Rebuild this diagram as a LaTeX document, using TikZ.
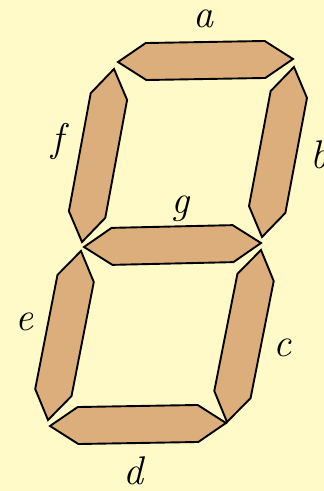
\documentclass[tikz,border=0pt]{standalone}
\usetikzlibrary{calc}

\definecolor{giallino}{HTML}{FFFAC8}
\definecolor{ocra}{HTML}{DCAE7C}

\begin{document}
\begin{tikzpicture}[x=1pt, y=-1pt,
    segmento/.style={draw=black, fill=ocra, line width=1.9pt},
    etichetta/.style={font=\fontsize{40}{44}\selectfont\itshape, inner sep=0pt}]
    % ==========================================
    % PARAMETRI GEOMETRICI
    % ==========================================
    \def\segcut{28pt}    % Distanza punta -> spigolo lungo il segmento
    \def\seghalf{18.5pt} % Mezza larghezza del segmento

    % Sfondo e dimensioni della figura
    \fill[giallino] (0,0) rectangle (324,491);
    \useasboundingbox (0,0) rectangle (324,491);

    % ==========================================
    % MACRO PER UN SEGMENTO ESAGONALE
    % #1 = nome del segmento
    % #2 = prima punta
    % #3 = seconda punta
    % ==========================================
    \newcommand{\drawseg}[3]{
        \coordinate (#1-s) at (#2);
        \coordinate (#1-t) at (#3);
        \draw[segmento] (#1-s)
            -- ($(#1-s)!\segcut!(#1-t)!\seghalf!90:(#1-t)$)
            -- ($(#1-t)!\segcut!(#1-s)!\seghalf!-90:(#1-s)$)
            -- (#1-t)
            -- ($(#1-t)!\segcut!(#1-s)!\seghalf!90:(#1-s)$)
            -- ($(#1-s)!\segcut!(#1-t)!\seghalf!-90:(#1-t)$)
            -- cycle;
    }

    % ==========================================
    % I SETTE SEGMENTI
    % ==========================================
    \drawseg{a}{118,62}{293,59}
    \drawseg{b}{294,67}{262,237}
    \drawseg{c}{261,250}{227,422}
    \drawseg{d}{50,426}{226,423}
    \drawseg{e}{81,251}{48,420}
    \drawseg{f}{114,69}{82,242}
    \drawseg{g}{84,247}{261,243}

    % ==========================================
    % ETICHETTE
    % ==========================================
    \node[etichetta] (lbl-a) at (203,19) {a};
    \node[etichetta] (lbl-b) at (319,155) {b};
    \node[etichetta] (lbl-c) at (282,348) {c};
    \node[etichetta] (lbl-d) at (133,471) {d};
    \node[etichetta] (lbl-e) at (25,322) {e};
    \node[etichetta] (lbl-f) at (58,141) {f};
    \node[etichetta] (lbl-g) at (180,209) {g};

\end{tikzpicture}
\end{document}
